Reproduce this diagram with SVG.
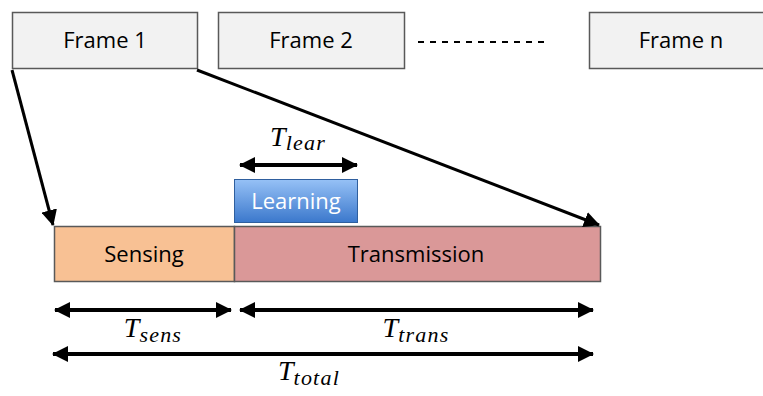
<svg xmlns="http://www.w3.org/2000/svg" width="763" height="396" viewBox="0 0 763 396">
<style>
.frame{fill:#f2f2f2;stroke:#595959;stroke-width:1.5}
.lbl{font-family:"Open Sans","Liberation Sans",sans-serif;font-size:22px;fill:#000;text-anchor:middle}
.math{font-family:"Liberation Serif",serif;font-style:italic;fill:#000;text-anchor:middle;font-size:28px}
.sub{font-size:22px;letter-spacing:1.2px}
.conn{stroke:#000;stroke-width:3;fill:none}
.dim{stroke:#000;stroke-width:4;fill:none}
</style>
<defs>
<marker id="ahb" markerWidth="16" markerHeight="16" refX="15" refY="8" orient="auto-start-reverse" markerUnits="userSpaceOnUse" viewBox="0 0 16 16"><path d="M0,0 L16,8 L0,16 z" fill="#000"/></marker>
<linearGradient id="blue" x1="0" y1="0" x2="0" y2="1"><stop offset="0" stop-color="#96c1f6"/><stop offset="1" stop-color="#3b78cc"/></linearGradient>
</defs>
<g id="frame1"><rect class="frame" x="12.5" y="12.5" width="185" height="56"/><text class="lbl" x="105" y="48">Frame 1</text></g>
<g id="frame2"><rect class="frame" x="218.5" y="12.5" width="186" height="56"/><text class="lbl" x="311" y="48">Frame 2</text></g>
<line x1="418" y1="42" x2="546" y2="42" stroke="#000" stroke-width="2" stroke-dasharray="6,6"/>
<g id="framen"><rect class="frame" x="589.5" y="12.5" width="185" height="56"/><text class="lbl" x="681" y="48">Frame n</text></g>
<g id="learning"><rect x="234.5" y="179.5" width="123" height="43" fill="url(#blue)" stroke="#2f5f9e" stroke-width="1"/><text class="lbl" x="296" y="209" style="fill:#fff">Learning</text></g>
<g id="sensing"><rect x="54.5" y="226.5" width="180" height="55" fill="#f8c194" stroke="#595959" stroke-width="1.5"/><text class="lbl" x="144" y="262">Sensing</text></g>
<g id="transmission"><rect x="234.5" y="226.5" width="366" height="55" fill="#da9898" stroke="#595959" stroke-width="1.5"/><text class="lbl" x="416" y="262">Transmission</text></g>
<g id="connectors">
<line class="conn" x1="12" y1="70" x2="53" y2="225" marker-end="url(#ahb)"/>
<line class="conn" x1="197" y1="70" x2="599" y2="225" marker-end="url(#ahb)"/>
<line class="dim" x1="240" y1="165" x2="357" y2="165" marker-start="url(#ahb)" marker-end="url(#ahb)"/>
<line class="dim" x1="55" y1="310" x2="231" y2="310" marker-start="url(#ahb)" marker-end="url(#ahb)"/>
<line class="dim" x1="240" y1="310" x2="593" y2="310" marker-start="url(#ahb)" marker-end="url(#ahb)"/>
<line class="dim" x1="53" y1="354" x2="593" y2="354" marker-start="url(#ahb)" marker-end="url(#ahb)"/>
</g>
<g id="labels">
<text class="math" x="298" y="146">T<tspan class="sub" dy="4">lear</tspan></text>
<text class="math" x="153" y="337">T<tspan class="sub" dy="5">sens</tspan></text>
<text class="math" x="416" y="337">T<tspan class="sub" dy="5">trans</tspan></text>
<text class="math" x="309" y="380">T<tspan class="sub" dy="5">total</tspan></text>
</g>
</svg>
